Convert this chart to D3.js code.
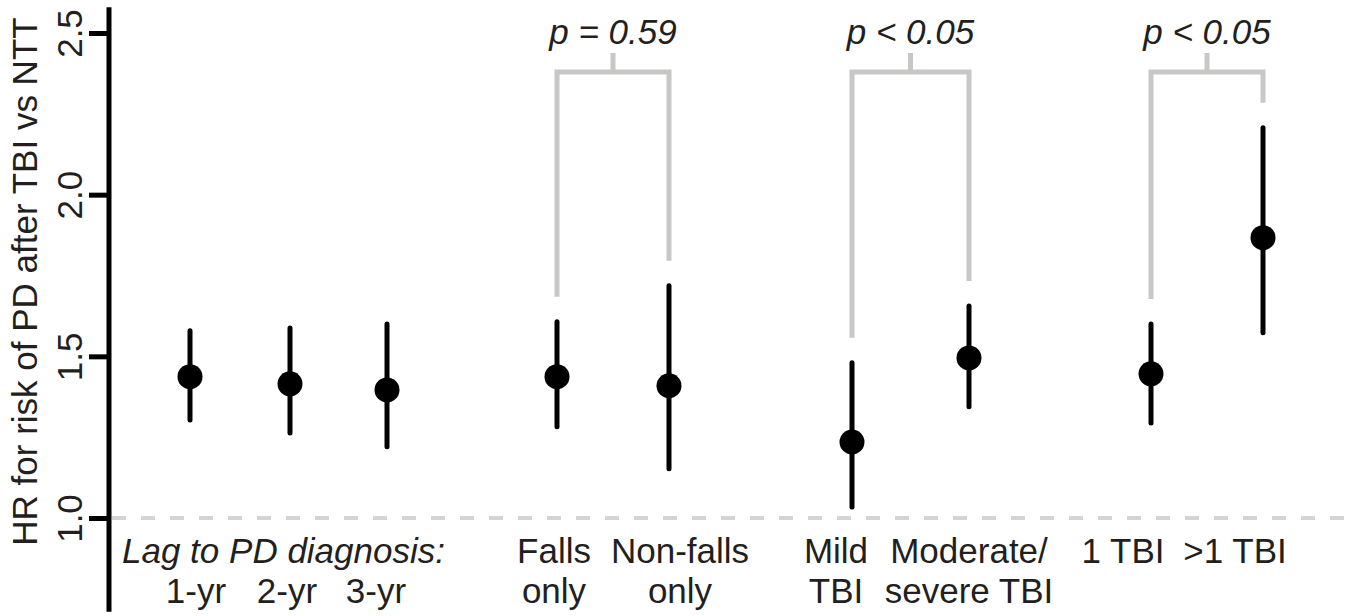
<!DOCTYPE html>
<html>
<head>
<meta charset="utf-8">
<script src="https://cdn.jsdelivr.net/npm/d3@7"></script>
<style>
  body { margin: 0; background: #fff; }
  text { font-family: "Liberation Sans", Arial, sans-serif; fill: #231f20; }
</style>
</head>
<body>
<div id="chart"></div>
<script>
const categories = ["1-yr", "2-yr", "3-yr", "Falls only", "Non-falls only",
                    "Mild TBI", "Moderate/severe TBI", "1 TBI", ">1 TBI"]
const labelLines = [["", "1-yr"], ["", "2-yr"], ["", "3-yr"], ["Falls", "only"], ["Non-falls", "only"],
                    ["Mild", "TBI"], ["Moderate/", "severe TBI"], ["1 TBI"], [">1 TBI"]]
const hr     = [1.437, 1.415, 1.396, 1.437, 1.409, 1.235, 1.495, 1.446, 1.867]
const ciLow  = [1.303, 1.263, 1.220, 1.282, 1.152, 1.034, 1.344, 1.294, 1.573]
const ciHigh = [1.579, 1.588, 1.600, 1.607, 1.718, 1.480, 1.656, 1.600, 2.207]
const yTicks = [1.0, 1.5, 2.0, 2.5]
const compFrom   = ["Falls only", "Mild TBI", "1 TBI"]
const compTo     = ["Non-falls only", "Moderate/severe TBI", ">1 TBI"]
const compLabels = ["p = 0.59", "p < 0.05", "p < 0.05"]
const lagTitle = "Lag to PD diagnosis:"
const yTitle = "HR for risk of PD after TBI vs NTT"

const width = 1347, height = 616
const fontSize = 35
const grey = "#c9c6c6"

const svg = d3.select("#chart").append("svg")
    .attr("width", width)
    .attr("height", height)

// manual layout of the columns (groups are spaced by hand in the figure)
const x = d3.scaleOrdinal(categories, [190, 290, 387, 557, 669, 852, 969, 1151, 1263])
const xLabel = d3.scaleOrdinal(categories, [196, 287, 376, 554, 680, 836, 969, 1123, 1235])
const y = d3.scaleLinear().domain([1, 2.5]).range([518, 33])

const data = categories.map((c, i) => ({cat: c, hr: hr[i], lo: ciLow[i], hi: ciHigh[i], lines: labelLines[i]}))

// reference line at HR = 1
svg.append("line")
    .attr("x1", 112).attr("x2", width)
    .attr("y1", y(1)).attr("y2", y(1))
    .attr("stroke", "#d4d4d4")
    .attr("stroke-width", 4)
    .attr("stroke-dasharray", "14,15")

// y axis
const axis = svg.append("g")
    .attr("transform", "translate(109,0)")
    .call(d3.axisLeft(y).tickValues(yTicks).tickFormat(d3.format(".1f")).tickSize(20).tickSizeOuter(0))
axis.select(".domain").remove()
axis.append("line")
    .attr("y1", y(2.58)).attr("y2", y(0.71))
    .attr("stroke", "#000").attr("stroke-width", 5)
axis.selectAll(".tick line").attr("stroke", "#000").attr("stroke-width", 5)
axis.selectAll(".tick text")
    .attr("x", null).attr("dy", null)
    .attr("transform", "translate(-27,0) rotate(-90)")
    .attr("text-anchor", "middle")
    .attr("font-size", fontSize)
    .attr("font-family", "Liberation Sans, Arial, sans-serif")
    .attr("fill", "#231f20")

svg.append("text")
    .attr("transform", `translate(37,${(13 + 550) / 2}) rotate(-90)`)
    .attr("text-anchor", "middle")
    .attr("font-size", fontSize)
    .text(yTitle)

// comparison brackets
const bracketY = 72
compFrom.forEach((a, i) => {
  const da = data.find(d => d.cat === a)
  const db = data.find(d => d.cat === compTo[i])
  const xa = x(a), xb = x(compTo[i]), xm = (xa + xb) / 2
  const g = svg.append("g")
      .attr("fill", "none")
      .attr("stroke", grey)
      .attr("stroke-width", 5)
  g.append("path")
      .attr("d", `M${xa},${y(da.hi) - 25}V${bracketY}H${xb}V${y(db.hi) - 25}`)
  g.append("line")
      .attr("x1", xm).attr("x2", xm)
      .attr("y1", bracketY).attr("y2", bracketY - 19)
  svg.append("text")
      .attr("x", xm).attr("y", 44)
      .attr("text-anchor", "middle")
      .attr("font-size", fontSize)
      .attr("font-style", "italic")
      .text(compLabels[i])
})

// error bars + points
const pts = svg.append("g").selectAll("g")
  .data(data)
  .join("g")

pts.append("line")
    .attr("x1", d => x(d.cat)).attr("x2", d => x(d.cat))
    .attr("y1", d => y(d.lo)).attr("y2", d => y(d.hi))
    .attr("stroke", "#000")
    .attr("stroke-width", 5)
    .attr("stroke-linecap", "round")

pts.append("circle")
    .attr("cx", d => x(d.cat))
    .attr("cy", d => y(d.hr))
    .attr("r", 12.5)
    .attr("fill", "#000")

// category labels
const labels = svg.append("g").selectAll("text")
  .data(data)
  .join("text")
    .attr("text-anchor", "middle")
    .attr("font-size", fontSize)

labels.selectAll("tspan")
  .data(d => d.lines.map(t => ({t, x: xLabel(d.cat)})))
  .join("tspan")
    .attr("x", d => d.x)
    .attr("y", (d, i) => 563 + i * 40)
    .text(d => d.t)

svg.append("text")
    .attr("x", 122).attr("y", 563)
    .attr("font-size", fontSize)
    .attr("font-style", "italic")
    .text(lagTitle)
</script>
</body>
</html>
